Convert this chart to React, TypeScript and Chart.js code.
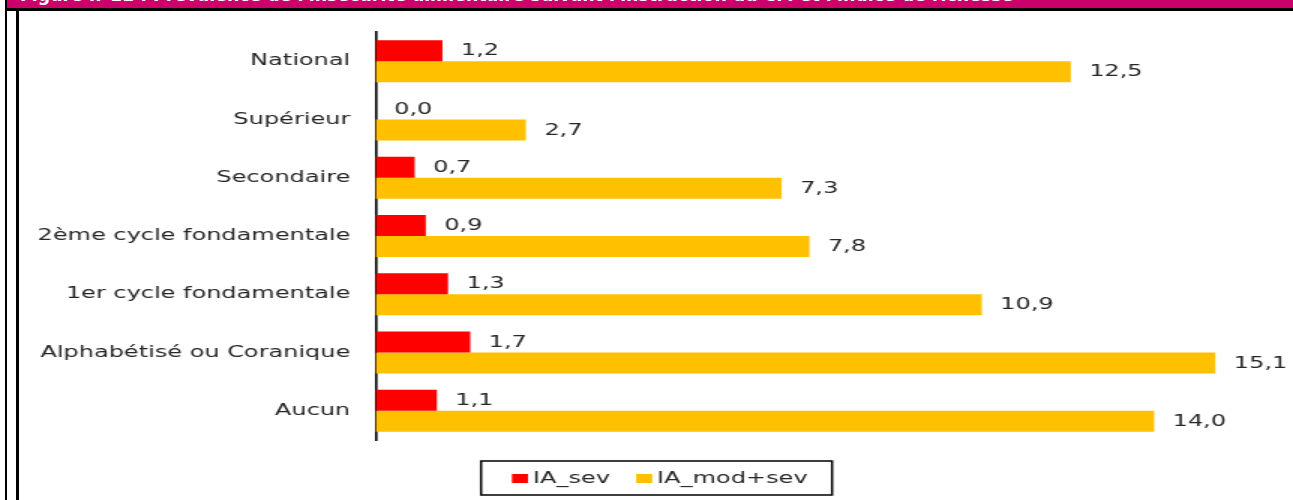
import React, { useEffect, useRef } from 'react';
import { Chart, registerables } from 'chart.js';

Chart.register(...registerables);

const categories = [
  'National',
  'Supérieur',
  'Secondaire',
  '2ème cycle fondamentale',
  '1er cycle fondamentale',
  'Alphabétisé ou Coranique',
  'Aucun',
];
const iaSev = [1.2, 0.0, 0.7, 0.9, 1.3, 1.7, 1.1];
const iaModSev = [12.5, 2.7, 7.3, 7.8, 10.9, 15.1, 14.0];
const seriesLabels = ['IA_sev', 'IA_mod+sev'];
const seriesColors = ['#FF0000', '#FFC000'];
const xMax = 16;
const titleText =
  "Figure n°11 : Prévalence de l'insécurité alimentaire suivant l'instruction du CM et l'indice de richesse";

const SX = 1.5;
const CW = 862;
const CH = 500;
const FONT = '"DejaVu Sans", sans-serif';
const TEXT = '#262626';

const fmt = (v: number) => v.toFixed(1).replace('.', ',');

export default function App() {
  const canvasRef = useRef<HTMLCanvasElement>(null);
  const titleRef = useRef<HTMLSpanElement>(null);

  useEffect(() => {
    document.body.style.margin = '0';
    const t = titleRef.current;
    if (t) {
      const w = t.offsetWidth;
      if (w > 0) t.style.transform = `scaleX(${993 / w})`;
    }
    const canvas = canvasRef.current;
    if (!canvas) return;

    const valueLabels = {
      id: 'valueLabels',
      afterDatasetsDraw(chart: any) {
        const ctx = chart.ctx;
        ctx.save();
        ctx.font = `16px ${FONT}`;
        ctx.fillStyle = TEXT;
        ctx.textAlign = 'left';
        ctx.textBaseline = 'middle';
        chart.data.datasets.forEach((ds: any, i: number) => {
          const meta = chart.getDatasetMeta(i);
          meta.data.forEach((el: any, j: number) => {
            const v = ds.data[j] as number;
            ctx.fillText(fmt(v), el.x + 12.3, el.y + 0.5);
          });
        });
        ctx.restore();
      },
    };

    const boxLegend = {
      id: 'boxLegend',
      afterDraw(chart: any) {
        const ctx = chart.ctx;
        ctx.save();
        ctx.strokeStyle = '#000';
        ctx.lineWidth = 1.5;
        ctx.strokeRect(320.7, 461, 234, 34);
        ctx.font = `16px ${FONT}`;
        ctx.textBaseline = 'middle';
        ctx.textAlign = 'left';
        let x = 341.3;
        const cy = 478.5;
        chart.data.datasets.forEach((ds: any) => {
          ctx.fillStyle = ds.backgroundColor;
          ctx.fillRect(x, cy - 4.5, 10.7, 9);
          x += 14;
          ctx.fillStyle = TEXT;
          ctx.fillText(ds.label, x, cy);
          x += ctx.measureText(ds.label).width + 17.5;
        });
        ctx.restore();
      },
    };

    const chart = new Chart(canvas, {
      type: 'bar',
      data: {
        labels: categories,
        datasets: [
          { label: seriesLabels[0], data: iaSev, backgroundColor: seriesColors[0], borderWidth: 0 },
          { label: seriesLabels[1], data: iaModSev, backgroundColor: seriesColors[1], borderWidth: 0 },
        ],
      },
      options: {
        indexAxis: 'y',
        responsive: false,
        animation: false,
        devicePixelRatio: 1,
        layout: { padding: { top: 32, bottom: 60, left: 0, right: 18.4 } },
        datasets: { bar: { categoryPercentage: 0.72, barPercentage: 1 } },
        plugins: { legend: { display: false }, tooltip: { enabled: false } },
        scales: {
          x: { display: false, min: 0, max: xMax },
          y: {
            grid: { display: false, drawTicks: false },
            border: { display: true, color: '#000', width: 1.6 },
            ticks: { font: { family: FONT, size: 16 }, color: TEXT, padding: 17 },
            afterFit: (s: any) => {
              s.width = 250.5;
            },
          },
        },
      } as any,
      plugins: [valueLabels, boxLegend],
    });
    return () => chart.destroy();
  }, []);

  return (
    <div style={{ position: 'relative', width: 1293, height: 500, overflow: 'hidden', background: '#fff' }}>
      <div
        style={{
          position: 'absolute',
          left: 7,
          top: 0,
          width: 1286,
          height: 8,
          background: '#CC006A',
          overflow: 'hidden',
        }}
      >
        <span
          ref={titleRef}
          style={{
            position: 'absolute',
            left: 13,
            top: -12.6,
            fontFamily: FONT,
            fontWeight: 'bold',
            fontSize: 17,
            lineHeight: '17px',
            color: '#fff',
            whiteSpace: 'nowrap',
            transformOrigin: '0 0',
            display: 'inline-block',
          }}
        >
          {titleText}
        </span>
      </div>
      <div style={{ position: 'absolute', left: 5, top: 8, width: 1288, height: 2.5, background: '#000' }} />
      <div style={{ position: 'absolute', left: 5, top: 0, width: 2, height: 500, background: '#000' }} />
      <div style={{ position: 'absolute', left: 16, top: 10, width: 3, height: 490, background: '#000' }} />
      <div
        style={{
          position: 'absolute',
          left: 0,
          top: 0,
          width: CW,
          height: CH,
          transform: `scaleX(${SX})`,
          transformOrigin: '0 0',
        }}
      >
        <canvas ref={canvasRef} width={CW} height={CH} style={{ display: 'block' }} />
      </div>
    </div>
  );
}
